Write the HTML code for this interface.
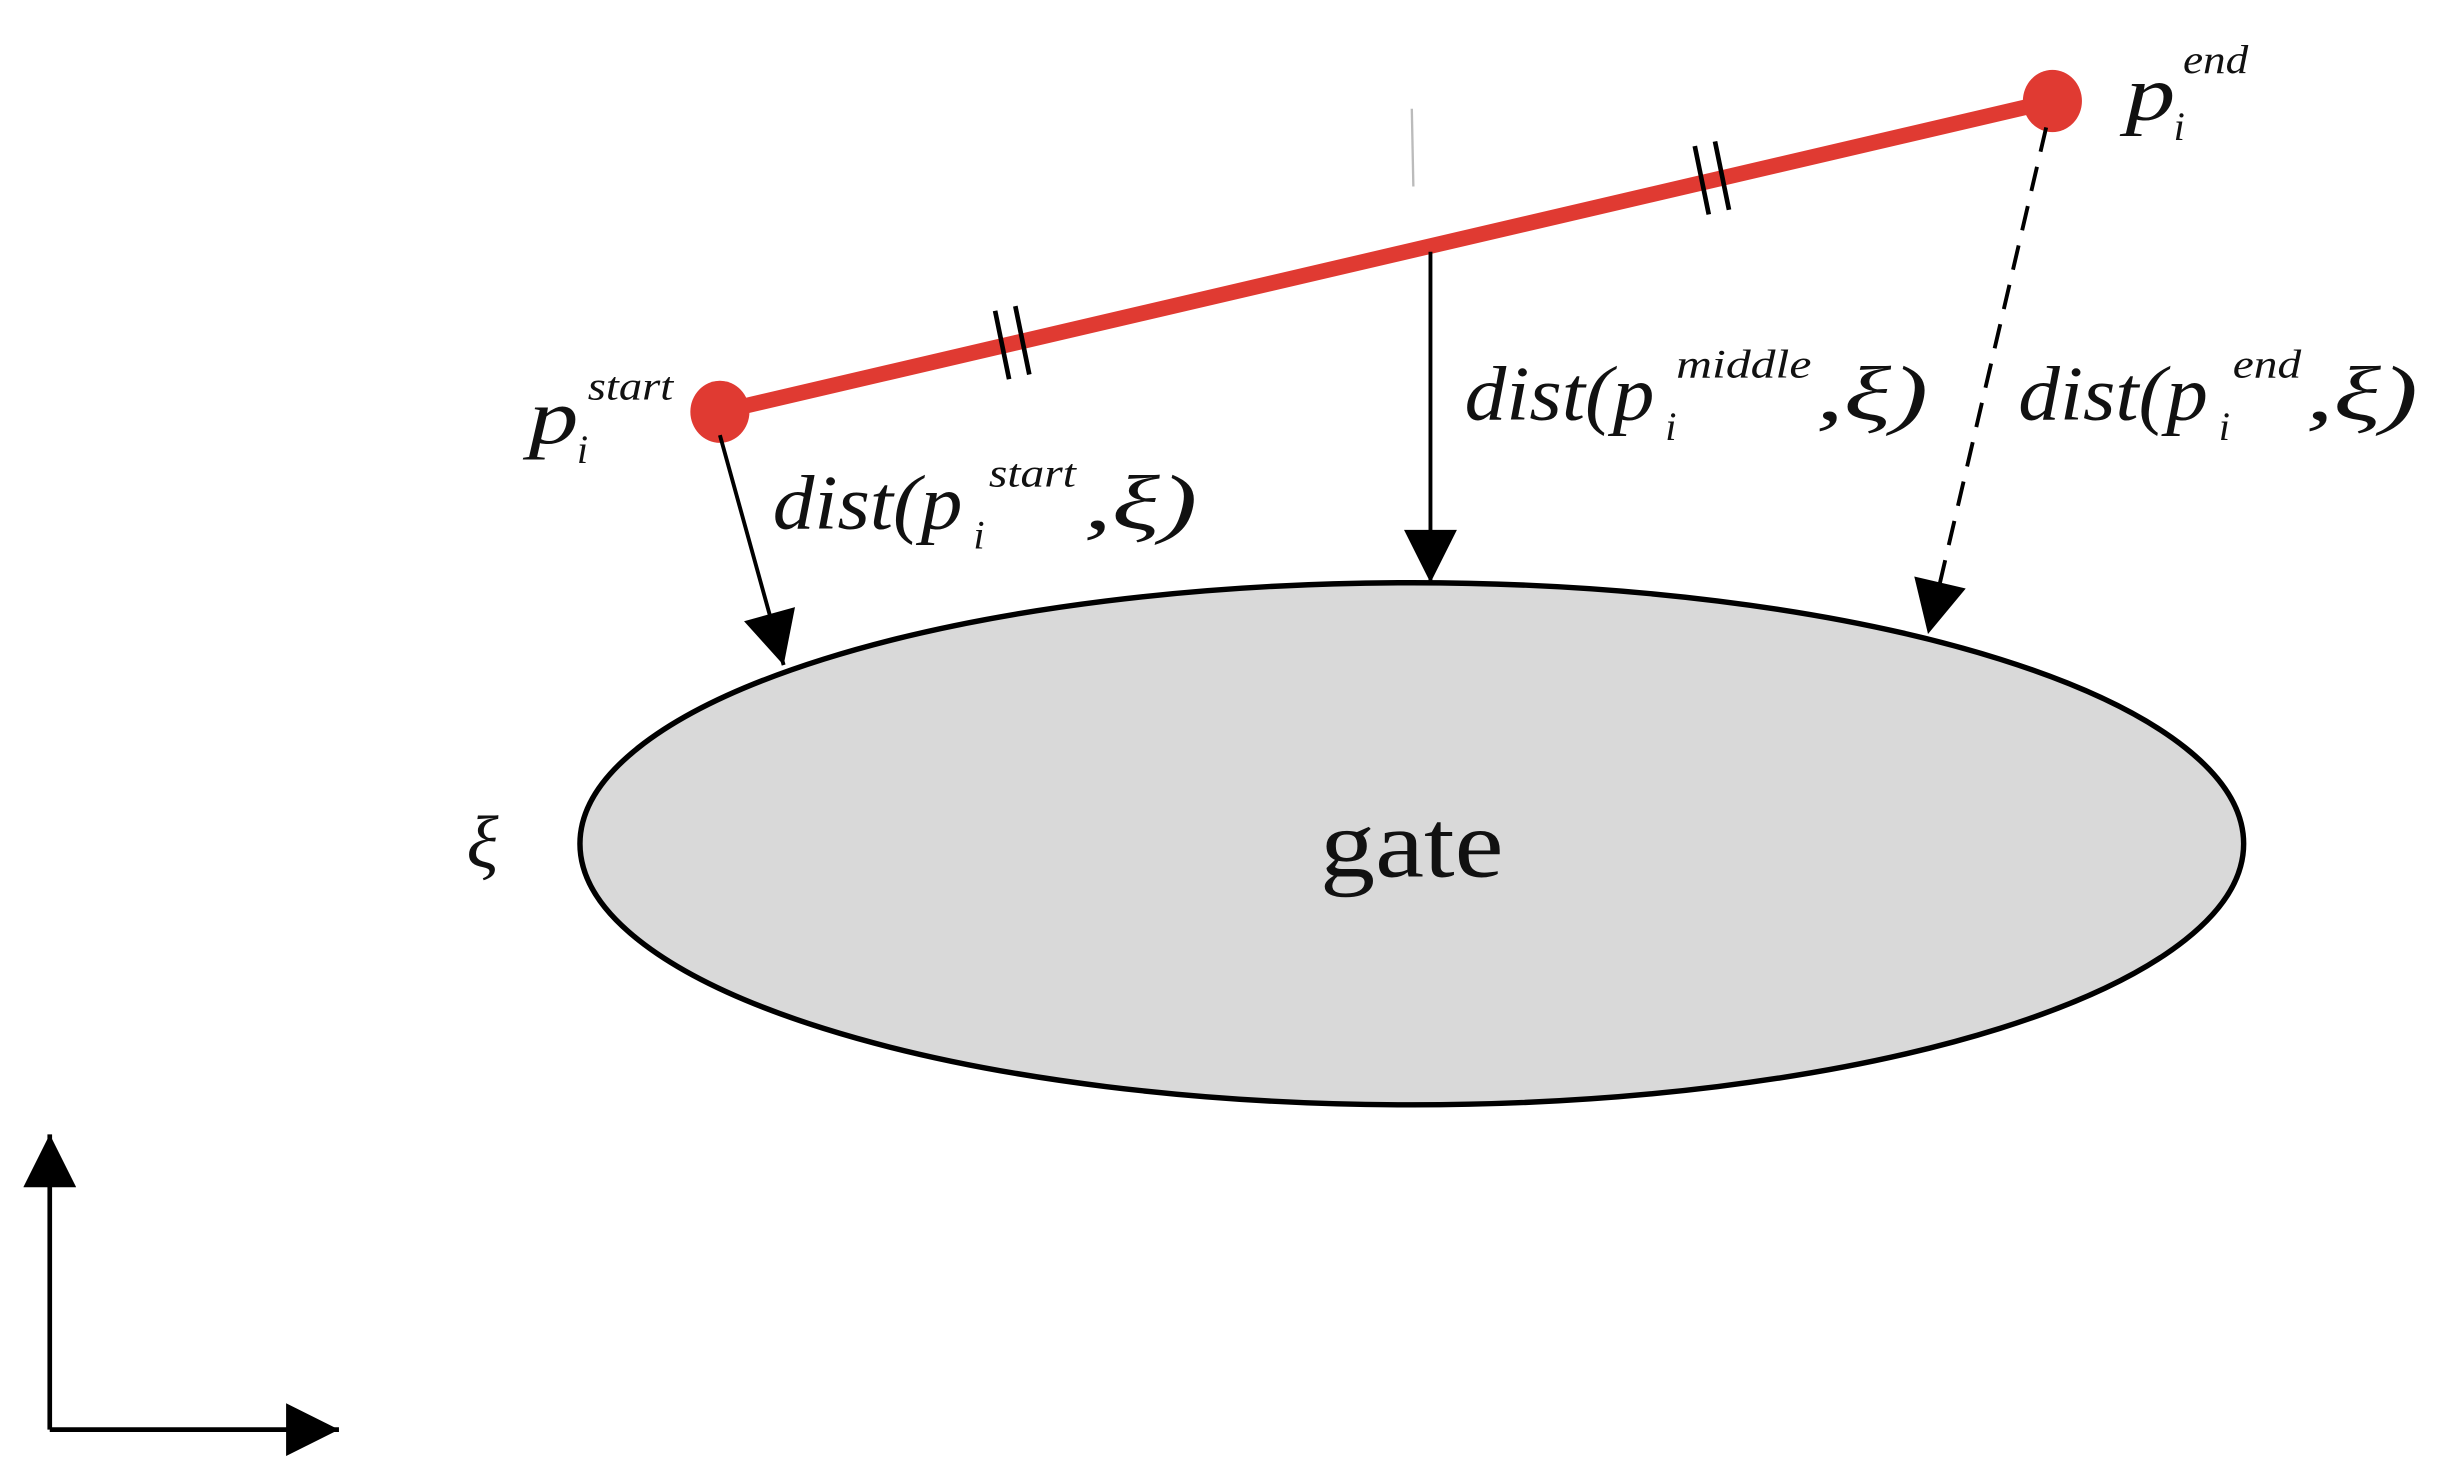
<!DOCTYPE html>
<html><head><style>html,body{margin:0;padding:0;background:#fff;}svg{display:block}</style></head>
<body>
<svg width="2438" height="1484" viewBox="0 0 1568 955" preserveAspectRatio="none" xmlns="http://www.w3.org/2000/svg">
<defs>
<marker id="ah2" viewBox="0 0 10 10" refX="10" refY="5" markerWidth="52" markerHeight="34" markerUnits="userSpaceOnUse" orient="auto">
<path d="M0,0 L10,5 L0,10 z" fill="#000"/>
</marker>
</defs>
<rect width="1568" height="955" fill="#fff"/>
<ellipse cx="908" cy="543" rx="535" ry="168" fill="#d9d9d9" stroke="#000" stroke-width="3.5"/>
<line x1="908" y1="70" x2="909" y2="120" stroke="#bbb" stroke-width="1.5"/>
<line x1="463" y1="265" x2="1320" y2="65" stroke="#e03a32" stroke-width="10"/>
<ellipse cx="463" cy="265" rx="19" ry="20" fill="#e03a32"/>
<ellipse cx="1320" cy="65" rx="19" ry="20" fill="#e03a32"/>
<g stroke="#000" stroke-width="3">
<line x1="640" y1="200" x2="649" y2="244"/><line x1="653" y1="197" x2="662" y2="241"/>
<line x1="1090" y1="94" x2="1099" y2="138"/><line x1="1103" y1="91" x2="1112" y2="135"/>
</g>
<line x1="463" y1="280" x2="504" y2="428" stroke="#000" stroke-width="2.5" marker-end="url(#ah2)"/>
<line x1="920" y1="162" x2="920" y2="375" stroke="#000" stroke-width="2.5" marker-end="url(#ah2)"/>
<line x1="1316" y1="82" x2="1240" y2="408" stroke="#000" stroke-width="2.5" stroke-dasharray="16,10" marker-end="url(#ah2)"/>
<line x1="32" y1="920" x2="32" y2="730" stroke="#000" stroke-width="3" marker-end="url(#ah2)"/>
<line x1="32" y1="920" x2="218" y2="920" stroke="#000" stroke-width="3" marker-end="url(#ah2)"/>
<g font-family="Liberation Serif, serif" font-style="italic" fill="#111">
<text x="340" y="285" font-size="50" textLength="32" lengthAdjust="spacingAndGlyphs">p</text><text x="371" y="298" font-size="26">i</text><text x="378" y="257" font-size="26" textLength="55" lengthAdjust="spacingAndGlyphs">start</text>
<text x="1367" y="77" font-size="50" textLength="32" lengthAdjust="spacingAndGlyphs">p</text><text x="1398" y="90" font-size="26">i</text><text x="1404" y="47" font-size="26" textLength="42" lengthAdjust="spacingAndGlyphs">end</text>
<text x="497" y="340" font-size="50" textLength="122" lengthAdjust="spacingAndGlyphs">dist(p</text><text x="626" y="353" font-size="26">i</text><text x="636" y="313" font-size="26" textLength="56" lengthAdjust="spacingAndGlyphs">start</text><text x="697" y="340" font-size="50" textLength="73" lengthAdjust="spacingAndGlyphs">,ξ)</text>
<text x="942" y="270" font-size="50" textLength="122" lengthAdjust="spacingAndGlyphs">dist(p</text><text x="1071" y="283" font-size="26">i</text><text x="1078" y="243" font-size="26" textLength="87" lengthAdjust="spacingAndGlyphs">middle</text><text x="1168" y="270" font-size="50" textLength="72" lengthAdjust="spacingAndGlyphs">,ξ)</text>
<text x="1298" y="270" font-size="50" textLength="122" lengthAdjust="spacingAndGlyphs">dist(p</text><text x="1427" y="283" font-size="26">i</text><text x="1436" y="243" font-size="26" textLength="44" lengthAdjust="spacingAndGlyphs">end</text><text x="1483" y="270" font-size="50" textLength="72" lengthAdjust="spacingAndGlyphs">,ξ)</text>
<text x="300" y="558" font-size="48">ξ</text>
</g>
<text x="908" y="564" font-family="Liberation Serif, serif" font-size="62" text-anchor="middle" fill="#111" textLength="118" lengthAdjust="spacingAndGlyphs">gate</text>
</svg>
</body></html>
